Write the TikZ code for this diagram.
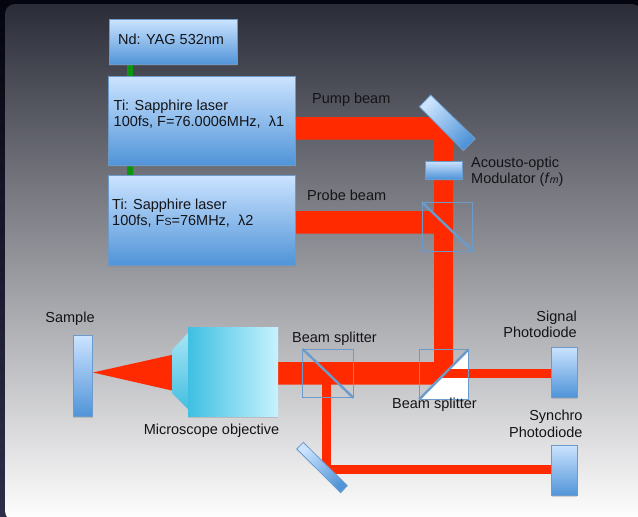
\documentclass[tikz,border=0pt]{standalone}
\usepackage{fontspec}
\setmainfont{Liberation Sans}
\usetikzlibrary{shadows}
\definecolor{beam}{HTML}{FF2A00}
\definecolor{boxedge}{HTML}{6C9BCB}
\definecolor{boxtop}{HTML}{CBE3FF}
\definecolor{boxbot}{HTML}{5094D8}
\definecolor{txt}{HTML}{141418}
\definecolor{pump}{HTML}{0A960F}
\definecolor{bgtop}{HTML}{2A2C38}
\definecolor{bgmid}{HTML}{A0A0A2}
\definecolor{rimtop}{HTML}{05050F}
\definecolor{rimbot}{HTML}{2E2E4A}
\definecolor{objL}{HTML}{3FC0E2}
\definecolor{objR}{HTML}{C8F2FE}
\definecolor{neckT}{HTML}{A6E4F4}
\definecolor{neckB}{HTML}{45BFE0}
\tikzset{
  x=1pt,y=-1pt,
  softshadow/.style={drop shadow={shadow xshift=0pt,shadow yshift=-1.5pt,opacity=.3}},
  box/.style={draw=boxedge,line width=0.8pt,top color=boxtop,bottom color=boxbot,softshadow,
    inner sep=0pt,outer sep=0pt,anchor=north west},
  mirror/.style={draw=boxedge,line width=0.8pt,top color=boxtop,bottom color=boxbot,shading angle=45},
  lab/.style={font=\fontsize{14.5}{16.4}\selectfont,text=txt,inner sep=0pt,align=left},
  cube/.style={draw=boxedge,line width=0.9pt,inner sep=0pt,outer sep=0pt},
  diag/.style={draw=boxedge,line width=2.4pt},
}
\newcommand{\smalltxt}[1]{{\fontsize{10.5}{10.5}\selectfont #1}}
\begin{document}
\begin{tikzpicture}
\useasboundingbox (0,0) rectangle (638,517);
\shade[top color=rimtop,bottom color=rimbot] (0,0) rectangle (638,517);
\shade[top color=bgtop,middle color=bgmid,bottom color=white,rounded corners=10pt]
 (5,4) rectangle (642,521);
% pump green
\fill[pump] (127,60) rectangle (133,180);
% beams
\fill[beam] (294,117) -- (431,117) -- (453,139) -- (453,365) -- (432,384.7) -- (277,384.7)
  -- (277,362) -- (434,362) -- (434,233.7) -- (294,233.7) -- (294,211) -- (434,211) -- (434,139.7) -- (294,139.7) -- cycle;
\fill[beam] (322,384) rectangle (331,474);
\fill[beam] (322,465) rectangle (552,474);
\fill[beam] (93,372.5) -- (172.7,354.7) -- (172.7,390.7) -- cycle;
% lasers
\node[box,minimum width=128pt,minimum height=45pt] (yag) at (109,19.5) {};
\node[box,minimum width=187.5pt,minimum height=88.7pt] (ti1) at (108.3,76.3) {};
\node[box,minimum width=187.5pt,minimum height=89.7pt] (ti2) at (108.3,175.3) {};
\node[lab,anchor=west] (yagt) at (118,39) {Nd: YAG 532nm};
\node[lab,anchor=west] (ti1t) at (113.5,114) {Ti: Sapphire laser\\100fs, F=76.0006MHz,\ \ λ1};
\node[lab,anchor=west] (ti2t) at (112,213) {Ti: Sapphire laser\\100fs, F\smalltxt{S}=76MHz,\ \ λ2};
\node[lab,anchor=west] (pumpl) at (312,100) {Pump beam};
\node[lab,anchor=west] (probel) at (307,195) {Probe beam};
% mirror top
\path[mirror] (430.7,95) -- (419.3,106.7) -- (463.3,150.7) -- (475.3,138.7) -- cycle;
% AOM
\node[box,minimum width=37.7pt,minimum height=18pt] (aom) at (425,161) {};
\node[lab,anchor=west] (aomt) at (471,172) {Acousto-optic\\Modulator (\textit{f}\smalltxt{\textit{m}})};
% cube top
\node[cube,minimum width=50.7pt,minimum height=48.7pt] (c1) at (447.3,226.6) {};
\draw[diag] (c1.north west) -- (c1.south east);
% sample
\node[box,minimum width=19.7pt,minimum height=80.3pt] (sample) at (73,335.7) {};
\node[lab,anchor=center] (samplet) at (70,319) {Sample};
% objective
\shade[top color=neckT,bottom color=neckB] (172,350) -- (188,333) -- (188,409) -- (172,393) -- cycle;
\node[anchor=north west,minimum width=90pt,minimum height=89pt,inner sep=0pt,outer sep=0pt,left color=objL,right color=objR,softshadow] (obj) at (188,327) {};
\node[lab,anchor=center] (objt) at (211.5,431) {Microscope objective};
% splitter 1
\node[lab,anchor=center] (bs1t) at (334.5,339) {Beam splitter};
\node[cube,minimum width=50.6pt,minimum height=48.7pt] (c2) at (328,373.4) {};
\draw[diag] (c2.north west) -- (c2.south east);
% splitter 2
\fill[white] (420,399) -- (468.7,349.5) -- (468.7,399.3) -- cycle;
\fill[beam] (441,369.2) rectangle (552,378);
\node[cube,minimum width=49.4pt,minimum height=50pt] (c3) at (444,374.3) {};
\draw[diag] (c3.south west) -- (c3.north east);
\node[lab,anchor=center] (bs2t) at (434.5,405) {Beam splitter};
% mirror bottom
\path[mirror] (303.3,442.3) -- (296.7,449) -- (340.7,492.7) -- (347.3,485.7) -- cycle;
% photodiodes
\node[box,minimum width=25.3pt,minimum height=50pt] (pd1) at (551.7,347) {};
\node[box,minimum width=25.3pt,minimum height=50.4pt] (pd2) at (551.7,445.3) {};
\node[lab,anchor=east,align=right] (pd1t) at (577,324.5) {Signal\\Photodiode};
\node[lab,anchor=east,align=right] (pd2t) at (582.7,424) {Synchro\\Photodiode};
\end{tikzpicture}
\end{document}
